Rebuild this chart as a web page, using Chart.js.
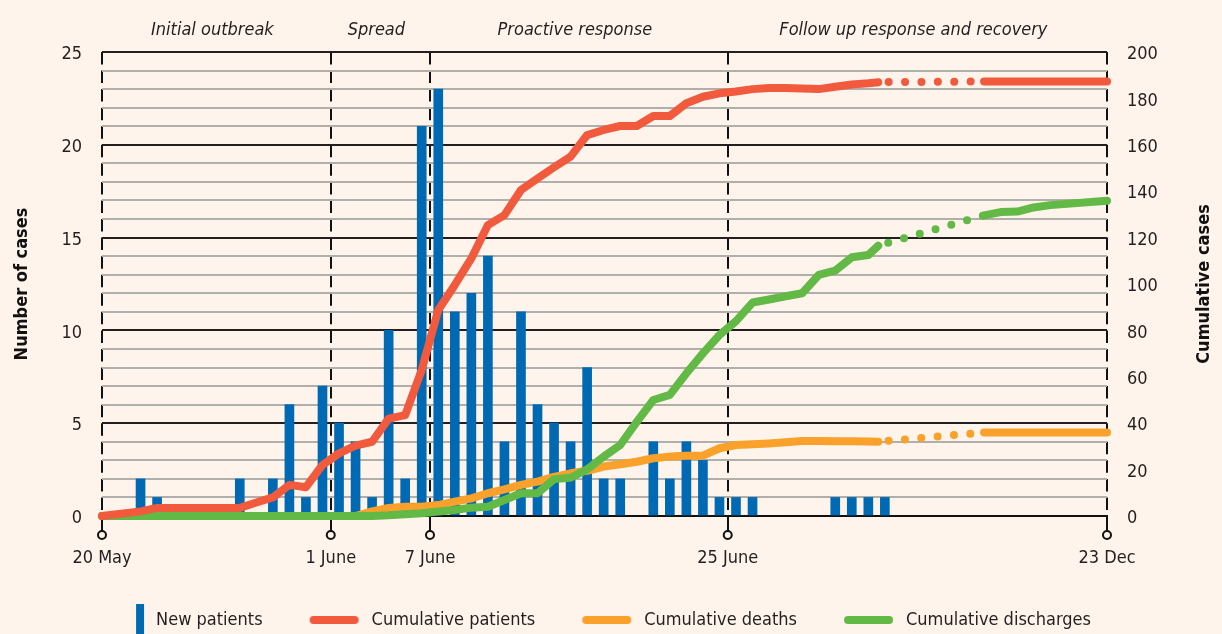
<!DOCTYPE html>
<html>
<head>
<meta charset="utf-8">
<title>Outbreak timeline</title>
<script src="https://cdn.jsdelivr.net/npm/chart.js@4.4.1/dist/chart.umd.min.js"></script>
<style>
  html, body { margin: 0; padding: 0; background: #fef4eb; }
  canvas { display: block; }
</style>
</head>
<body>
<canvas id="outbreakChart" width="1222" height="634"></canvas>
<script>
// x runs in days counted from 20 May; a day's bar sits on its integer,
// date labels sit on the boundary between two days
const xTickDays = [-2.33, 11.5, 17.5, 35.5, 58.43];
const xTickLabels = ['20 May', '1 June', '7 June', '25 June', '23 Dec'];
const phaseNames = ['Initial outbreak', 'Spread', 'Proactive response', 'Follow up response and recovery'];

const barDays = [0, 1, 6, 8, 9, 10, 11, 12, 13, 14, 15, 16, 17, 18, 19, 20, 21, 22, 23, 24,
                 25, 26, 27, 28, 29, 31, 32, 33, 34, 35, 36, 37, 42, 43, 44, 45];
const newPatients = [2, 1, 2, 2, 6, 1, 7, 5, 4, 1, 10, 2, 21, 23, 11, 12, 14, 4, 11, 6,
                     5, 4, 8, 2, 2, 4, 2, 4, 3, 1, 1, 1, 1, 1, 1, 1];

const lineDays = [-2.33,
  0, 1, 2, 3, 4, 5, 6, 7, 8, 9,
  10, 11, 12, 13, 14, 15, 16, 17, 18, 19,
  20, 21, 22, 23, 24, 25, 26, 27, 28, 29,
  30, 31, 32, 33, 34, 35, 36, 37, 38, 39,
  40, 41, 42, 43, 44,
  44.6, 51, 52, 53, 54, 55, 58.43];
const cumPatients = [0,
  2, 3.5, 3.5, 3.5, 3.5, 3.5, 3.5, 5.8, 8, 13.4,
  12.4, 22, 27, 30.3, 32, 42, 43.5, 63, 88.8, 99.6,
  111, 125.4, 129.7, 140.5, 145.5, 150.3, 154.9, 164.2, 166.4, 168.1,
  168.1, 172.4, 172.4, 177.9, 180.7, 182.2, 183, 184, 184.5, 184.5,
  184.3, 184, 185, 186, 186.5,
  187, 187.3, 187.3, 187.3, 187.3, 187.3, 187.3];
const cumDeaths = [0,
  0, 0, 0, 0, 0, 0, 0, 0, 0, 0,
  0, 0, 0, 0, 2, 3.5, 4, 4, 4.7, 6.2,
  7.6, 9.8, 11.5, 13.4, 14.8, 16.9, 18.4, 19.5, 21.3, 22.3,
  23.4, 24.9, 25.6, 26, 26, 29.2, 30.6, 30.9, 31.3, 31.8,
  32.3, 32.3, 32.2, 32.2, 32.1,
  32, 36, 36, 36, 36, 36, 36];
const cumDischarges = [0,
  0, 0, 0, 0, 0, 0, 0, 0, 0, 0,
  0, 0, 0, 0, 0, 0.3, 0.8, 1.2, 1.9, 2.6,
  3.6, 4, 6.9, 9.8, 9.8, 15.9, 16.5, 20.1, 25.6, 30.6,
  40.6, 50, 52.2, 61.5, 70.1, 78, 84, 92, 93.3, 94.7,
  96, 103.9, 105.8, 111.5, 112.5,
  116.5, 129.6, 131, 131.2, 133, 134, 135.9];

// the stretch between these two days is drawn dotted (gap in the record)
const breakFrom = 44.6;
const breakTo = 51;

const BG = '#fef4eb';
const INK = '#231f20';
const BLUE = '#0069b4';
const RED = '#f15a3d';
const ORANGE = '#f9a12a';
const GREEN = '#62b946';
const FONT = "'DejaVu Sans Condensed', 'Liberation Sans', sans-serif";
const LEGEND_SHIFT = -37; // pull the legend row left so the symbols line up

Chart.defaults.font.family = FONT;
Chart.defaults.font.size = 18;
Chart.defaults.color = INK;

// small canvases used as legend symbols; the empty left part acts as the gap
function legendIcon(kind, color) {
    const c = document.createElement('canvas');
    c.width = 90;
    c.height = 32;
    const g = c.getContext('2d');
    if (kind === 'bar') {
        g.fillStyle = color;
        g.fillRect(79, 0, 8, 32);
    } else {
        g.strokeStyle = color;
        g.lineWidth = 8;
        g.lineCap = 'round';
        g.beginPath();
        g.moveTo(41, 16);
        g.lineTo(82, 16);
        g.stroke();
    }
    return c;
}

const toPoints = (days, values) => days.map((d, i) => ({ x: d, y: values[i] }));
const inBreak = ctx => ctx.p0.parsed.x >= breakFrom && ctx.p1.parsed.x <= breakTo;

function lineSet(label, values, color, order) {
    return {
        type: 'line',
        label: label,
        data: toPoints(lineDays, values),
        yAxisID: 'yR',
        borderColor: color,
        backgroundColor: color,
        borderWidth: 8,
        borderCapStyle: 'round',
        borderJoinStyle: 'round',
        pointRadius: 0,
        pointHoverRadius: 0,
        pointStyle: legendIcon('line', color),
        tension: 0,
        clip: 8,
        order: order,
        segment: {
            borderDash: ctx => (inBreak(ctx) ? [0, 16.4] : undefined),
            borderDashOffset: ctx => (inBreak(ctx) ? 6 : undefined)
        }
    };
}

// phase titles, right axis title and the hollow circles under the date ticks
const phasePlugin = {
    id: 'phases',
    afterLayout(chart) {
        chart.legend.left += LEGEND_SHIFT;
        chart.legend.right += LEGEND_SHIFT;
    },
    afterDraw(chart) {
        const { ctx, chartArea, scales } = chart;
        const x = scales.x;
        ctx.save();
        ctx.font = 'italic 18px ' + FONT;
        ctx.fillStyle = INK;
        ctx.textAlign = 'center';
        ctx.textBaseline = 'alphabetic';
        phaseNames.forEach((name, i) => {
            const mid = (x.getPixelForValue(xTickDays[i]) + x.getPixelForValue(xTickDays[i + 1])) / 2 - 4;
            ctx.fillText(name, mid, chartArea.top - 17);
        });

        ctx.save();
        ctx.translate(scales.yR.right - 18, (chartArea.top + chartArea.bottom) / 2);
        ctx.rotate(-Math.PI / 2);
        ctx.font = 'bold 18px ' + FONT;
        ctx.fillStyle = '#111';
        ctx.textBaseline = 'middle';
        ctx.fillText('Cumulative cases', 0, 0);
        ctx.restore();

        ctx.lineWidth = 2;
        ctx.strokeStyle = '#111';
        ctx.fillStyle = BG;
        xTickDays.forEach(v => {
            ctx.beginPath();
            ctx.arc(x.getPixelForValue(v), chartArea.bottom + 19, 4, 0, Math.PI * 2);
            ctx.fill();
            ctx.stroke();
        });
        ctx.restore();
    }
};

new Chart(document.getElementById('outbreakChart'), {
    type: 'bar',
    data: {
        datasets: [
            {
                label: 'New patients',
                data: toPoints(barDays, newPatients),
                yAxisID: 'y',
                backgroundColor: BLUE,
                barThickness: 9,
                pointStyle: legendIcon('bar', BLUE),
                order: 3
            },
            lineSet('Cumulative patients', cumPatients, RED, 0),
            lineSet('Cumulative deaths', cumDeaths, ORANGE, 2),
            lineSet('Cumulative discharges', cumDischarges, GREEN, 1)
        ]
    },
    options: {
        responsive: false,
        animation: false,
        devicePixelRatio: 1,
        layout: { padding: { top: 52, right: 0, bottom: 0, left: 0 } },
        plugins: {
            legend: {
                position: 'bottom',
                maxHeight: 33,
                labels: {
                    usePointStyle: true,
                    pointStyleWidth: 90,
                    padding: 10,
                    color: INK,
                    font: { size: 18 },
                    sort: (a, b) => a.datasetIndex - b.datasetIndex
                }
            },
            tooltip: { enabled: false }
        },
        scales: {
            x: {
                type: 'linear',
                min: xTickDays[0],
                max: xTickDays[xTickDays.length - 1],
                offset: false,
                afterBuildTicks: s => { s.ticks = xTickDays.map(v => ({ value: v })); },
                afterFit: s => { s.height = 85; },
                ticks: {
                    autoSkip: false,
                    maxRotation: 0,
                    padding: 17,
                    color: INK,
                    callback: (v, i) => xTickLabels[i]
                },
                grid: { offset: false, color: '#111', lineWidth: 2, tickLength: 15, tickColor: '#111', tickWidth: 2 },
                border: { display: true, color: '#111', width: 2, dash: [12.5, 6.06] }
            },
            y: {
                position: 'left',
                min: 0,
                max: 25,
                afterFit: s => { s.width = 102; },
                ticks: {
                    stepSize: 1,
                    autoSkip: false,
                    padding: 20,
                    labelOffset: 2.5,
                    color: INK,
                    callback: v => (v % 5 === 0 ? v : '')
                },
                grid: {
                    drawTicks: false,
                    lineWidth: 2,
                    color: c => (c.tick.value % 5 === 0 ? INK : '#b1afac')
                },
                border: { display: false },
                title: {
                    display: true,
                    text: 'Number of cases',
                    color: '#111',
                    font: { size: 18, weight: 'bold' },
                    padding: { top: 12, bottom: 0 }
                }
            },
            yR: {
                position: 'right',
                min: 0,
                max: 200,
                afterFit: s => { s.width = 115; },
                ticks: { stepSize: 20, padding: 20, labelOffset: 2.5, color: INK },
                grid: { drawOnChartArea: false, drawTicks: false },
                border: { display: false }
            }
        }
    },
    plugins: [phasePlugin]
});
</script>
</body>
</html>
